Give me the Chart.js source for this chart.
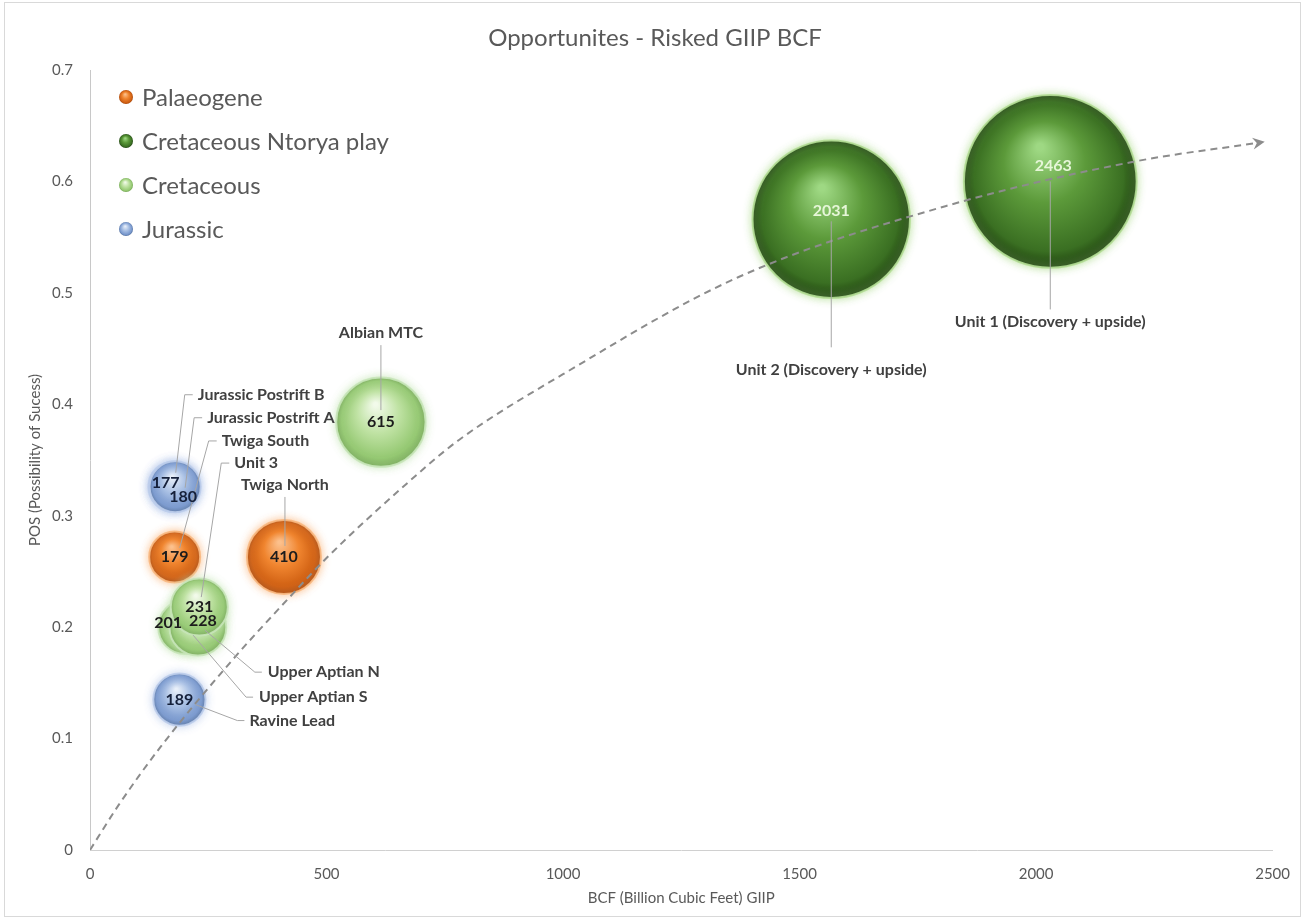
<!DOCTYPE html>
<html>
<head>
<meta charset="utf-8">
<script src="https://cdn.jsdelivr.net/npm/chart.js@4.4.1/dist/chart.umd.min.js"></script>
<style>
  html, body { margin: 0; padding: 0; background: #fff; }
  #wrap { width: 1305px; height: 920px; }
</style>
</head>
<body>
<div id="wrap"><canvas id="chart"></canvas></div>
<script>
// series (legend order)
const seriesNames = ["Palaeogene", "Cretaceous Ntorya play", "Cretaceous", "Jurassic"];

// prospects
const names = ["Twiga South", "Twiga North", "Unit 2 (Discovery + upside)", "Unit 1 (Discovery + upside)",
  "Albian MTC", "Upper Aptian S", "Upper Aptian N", "Unit 3",
  "Jurassic Postrift B", "Jurassic Postrift A", "Ravine Lead"];
const seriesOf = [0, 0, 1, 1, 2, 2, 2, 2, 3, 3, 3];
const xValues = [179, 410, 1567, 2030, 615, 201, 228, 231, 177, 180, 189];
const yValues = [0.263, 0.263, 0.566, 0.6, 0.384, 0.2, 0.2, 0.218, 0.326, 0.326, 0.135];
const giip = [179, 410, 2031, 2463, 615, 201, 228, 231, 177, 180, 189];

// dashed trend line
const trendX = [0, 60, 150, 300, 420, 500, 670, 780, 1000, 1370, 1810, 2210, 2475];
const trendY = [0, 0.04, 0.093, 0.17, 0.226, 0.262, 0.329, 0.368, 0.427, 0.514, 0.578, 0.618, 0.635];

const xTicks = [0, 500, 1000, 1500, 2000, 2500];
const yTicks = [0, 0.1, 0.2, 0.3, 0.4, 0.5, 0.6, 0.7];

const palettes = [
  { hi: "#fcc08c", mid: "#f0852f", dark: "#cf5f12", edge: "#a8470a", glow: "rgba(250,185,130,0.9)", text: "#1c1c1c" },
  { hi: "#9ed883", mid: "#5c9a3a", dark: "#3a6f22", edge: "#1f4210", glow: "rgba(180,222,150,0.9)", text: "#e6f6d8" },
  { hi: "#f2faea", mid: "#bfe2a3", dark: "#94c871", edge: "#73a653", glow: "rgba(200,230,185,0.9)", text: "#1c1c1c" },
  { hi: "#e8eff9", mid: "#a9c0e4", dark: "#7696cc", edge: "#52709f", glow: "rgba(190,206,236,0.9)", text: "#15203a" }
];

const FONT = "Lato, 'Open Sans', sans-serif";

function sphere(g, cx, cy, r, pal) {
  const grad = g.createRadialGradient(cx - r * 0.12, cy - r * 0.4, r * 0.04, cx, cy, r);
  grad.addColorStop(0, pal.hi);
  grad.addColorStop(0.45, pal.mid);
  grad.addColorStop(0.86, pal.dark);
  grad.addColorStop(1, pal.edge);
  return grad;
}

function bubbleSize(v) {
  return 1.68 * Math.sqrt(v) + 3;
}

// label placement (pixels relative to bubble centre)
const valueOffset = { 2: [0, -8], 3: [3, -16], 5: [-17, -4], 6: [5, -6], 8: [-8, -4], 9: [8, 10] };
const nameLayout = {
  0: { dx: 47, dy: -116, align: "left", path: [[42, -116], [34, -116], [5, -9]] },
  1: { dx: 1, dy: -72, align: "center", path: [[1, -60], [1, -11]] },
  2: { dx: 0, dy: 151, align: "center", path: [[0, 2], [0, 128]] },
  3: { dx: 0, dy: 140, align: "center", path: [[0, 0], [0, 128]] },
  4: { dx: 0, dy: -89, align: "center", path: [[0, -77], [0, -12]] },
  5: { dx: 74, dy: 70, align: "left", path: [[68, 70], [61, 70], [8, 8]] },
  6: { dx: 70, dy: 45, align: "left", path: [[64, 45], [57, 45], [7, 3]] },
  7: { dx: 35, dy: -144, align: "left", path: [[30, -144], [22, -144], [2, -10]] },
  8: { dx: 24, dy: -92, align: "left", path: [[19, -92], [11, -92], [2, -14]] },
  9: { dx: 32, dy: -69, align: "left", path: [[27, -69], [19, -69], [10, 1]] },
  10: { dx: 70, dy: 21, align: "left", path: [[65, 21], [58, 21], [16, 5]] }
};

const bubbleSets = seriesNames.map((s, si) => {
  const pts = [];
  names.forEach((n, i) => {
    if (seriesOf[i] === si) pts.push({ x: xValues[i], y: yValues[i], r: bubbleSize(giip[i]), idx: i });
  });
  const pal = palettes[si];
  return {
    type: "bubble",
    label: s,
    data: pts,
    order: [4, 3, 1, 2][si],
    clip: false,
    pal: si,
    borderColor: pal.glow,
    borderWidth: 2,
    backgroundColor: c => {
      if (c.type !== "data" || !c.raw) return pal.mid;
      const ch = c.chart;
      const cx = ch.scales.x.getPixelForValue(c.raw.x);
      const cy = ch.scales.y.getPixelForValue(c.raw.y);
      if (!isFinite(cx) || !isFinite(cy)) return pal.mid;
      return sphere(ch.ctx, cx, cy, c.raw.r, pal);
    }
  };
});

const trendSet = {
  type: "line",
  label: "trend",
  data: trendX.map((x, i) => ({ x: x, y: trendY[i] })),
  borderColor: "#8c8c8c",
  borderWidth: 2,
  borderDash: [7, 5],
  pointRadius: 0,
  cubicInterpolationMode: "monotone",
  fill: false,
  order: 0
};

// soft glow around the bubbles
const glow = {
  id: "glow",
  beforeDatasetDraw(chart, args) {
    const ds = chart.data.datasets[args.index];
    if (ds.type !== "bubble") return;
    const g = chart.ctx;
    g.save();
    g.shadowColor = palettes[ds.pal].glow;
    g.shadowBlur = 9;
  },
  afterDatasetDraw(chart, args) {
    const ds = chart.data.datasets[args.index];
    if (ds.type !== "bubble") return;
    chart.ctx.restore();
  }
};

const decorations = {
  id: "decorations",
  afterDatasetsDraw(chart) {
    const g = chart.ctx;
    const xs = chart.scales.x, ys = chart.scales.y;

    // arrow head at the end of the trend line
    const n = trendX.length;
    const ax = xs.getPixelForValue(trendX[n - 1]), ay = ys.getPixelForValue(trendY[n - 1]);
    const bx = xs.getPixelForValue(trendX[n - 2]), by = ys.getPixelForValue(trendY[n - 2]);
    const ang = Math.atan2(ay - by, ax - bx);
    g.save();
    g.translate(ax, ay);
    g.rotate(ang);
    g.fillStyle = "#8c8c8c";
    g.beginPath();
    g.moveTo(4, 0);
    g.lineTo(-8, -6);
    g.lineTo(-4, 0);
    g.lineTo(-8, 6);
    g.closePath();
    g.fill();
    g.restore();

    // leader lines and name labels
    g.save();
    names.forEach((name, i) => {
      const cx = xs.getPixelForValue(xValues[i]);
      const cy = ys.getPixelForValue(yValues[i]);
      const L = nameLayout[i];
      g.strokeStyle = "#a6a6a6";
      g.lineWidth = 1;
      g.beginPath();
      L.path.forEach((p, k) => {
        if (k === 0) g.moveTo(cx + p[0], cy + p[1]);
        else g.lineTo(cx + p[0], cy + p[1]);
      });
      g.stroke();
      g.font = "bold 16px " + FONT;
      g.fillStyle = "#404040";
      g.textAlign = L.align;
      g.textBaseline = "middle";
      g.fillText(name, cx + L.dx, cy + L.dy);
    });

    // value labels
    names.forEach((name, i) => {
      const cx = xs.getPixelForValue(xValues[i]);
      const cy = ys.getPixelForValue(yValues[i]);
      const off = valueOffset[i] || [0, 0];
      g.font = "bold 16px " + FONT;
      g.fillStyle = palettes[seriesOf[i]].text;
      g.textAlign = "center";
      g.textBaseline = "middle";
      g.fillText(String(giip[i]), cx + off[0], cy + off[1]);
    });
    g.restore();
  },
  afterDraw(chart) {
    const g = chart.ctx;
    g.save();
    // title
    g.font = "24px " + FONT;
    g.fillStyle = "#595959";
    g.textAlign = "center";
    g.textBaseline = "middle";
    g.fillText("Opportunites - Risked GIIP BCF", 655, 38);

    // legend
    seriesNames.forEach((s, si) => {
      const lx = 126, ly = 97 + 44 * si;
      g.beginPath();
      g.arc(lx, ly, 7, 0, Math.PI * 2);
      g.fillStyle = sphere(g, lx, ly, 7, palettes[si]);
      g.fill();
      g.font = "24px " + FONT;
      g.fillStyle = "#595959";
      g.textAlign = "left";
      g.textBaseline = "middle";
      g.fillText(s, 142, ly + 1);
    });

    // outer frame
    g.strokeStyle = "#d9d9d9";
    g.lineWidth = 1;
    g.strokeRect(4.5, 2.5, 1296, 914);
    g.restore();
  }
};

new Chart(document.getElementById("chart"), {
  type: "bubble",
  data: { datasets: [trendSet, ...bubbleSets] },
  options: {
    responsive: true,
    maintainAspectRatio: false,
    animation: false,
    events: [],
    layout: { autoPadding: false, padding: { top: 70, right: 30, left: 0, bottom: 0 } },
    plugins: {
      legend: { display: false },
      tooltip: { enabled: false },
      title: { display: false }
    },
    scales: {
      x: {
        type: "linear",
        min: 0,
        max: 2500,
        afterBuildTicks: s => { s.ticks = xTicks.map(v => ({ value: v })); },
        afterFit: s => { s.height = 70; },
        grid: { display: false, drawTicks: false },
        border: { color: "#d0d0d0", width: 1 },
        ticks: { padding: 15, color: "#595959", font: { family: FONT, size: 15 }, callback: v => String(v) },
        title: { display: true, text: "BCF (Billion Cubic Feet) GIIP", color: "#595959",
          font: { family: FONT, size: 15 }, padding: { top: 0, bottom: 13 } }
      },
      y: {
        type: "linear",
        min: 0,
        max: 0.7,
        afterBuildTicks: s => { s.ticks = yTicks.map(v => ({ value: v })); },
        afterFit: s => { s.width = 90; },
        grid: { display: false, drawTicks: false },
        border: { color: "#c8c8c8", width: 1 },
        ticks: { padding: 17, color: "#595959", font: { family: FONT, size: 15 },
          callback: v => v === 0 ? "0" : v.toFixed(1) },
        title: { display: true, text: "POS (Possibility of Sucess)", color: "#595959",
          font: { family: FONT, size: 15 }, padding: { top: 26, bottom: 0 } }
      }
    }
  },
  plugins: [glow, decorations]
});
</script>
</body>
</html>
